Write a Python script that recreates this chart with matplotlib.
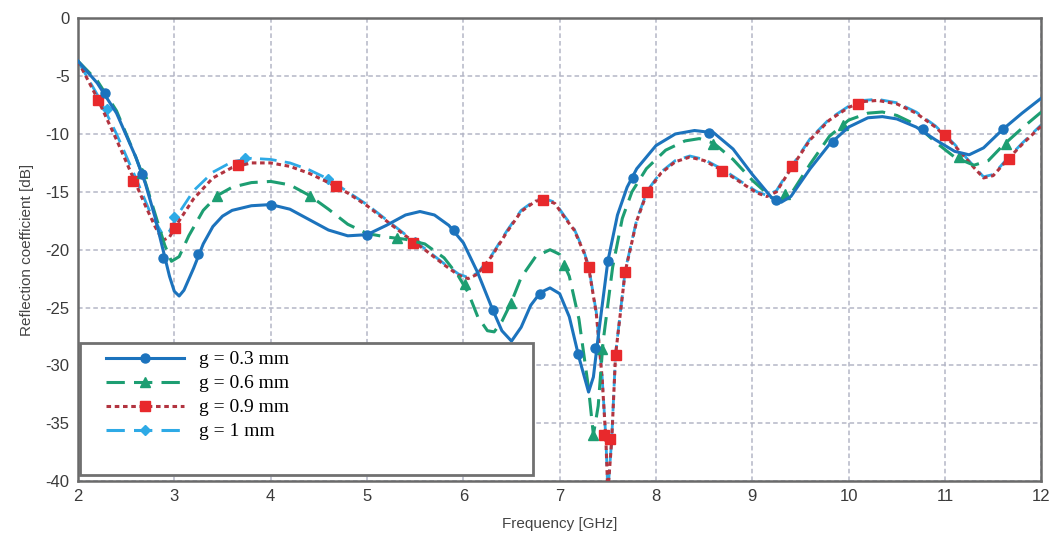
import numpy as np
import matplotlib
matplotlib.use('Agg')
import matplotlib.pyplot as plt
from matplotlib.lines import Line2D
from matplotlib.patches import Rectangle

plt.rcParams['axes.unicode_minus'] = False

# Values (Frequency in GHz, reflection coefficient in dB)

# g = 0.3 mm
f_03 = [2.0, 2.2, 2.4, 2.6, 2.7, 2.8, 2.9, 2.95, 3.0, 3.05, 3.1, 3.2, 3.3, 3.4, 3.5, 3.6, 3.8, 4.0,
        4.2, 4.4, 4.6, 4.8, 5.0, 5.2, 5.4, 5.55, 5.7, 5.85, 6.0, 6.15, 6.3, 6.4, 6.5, 6.6, 6.7, 6.8,
        6.9, 7.0, 7.1, 7.2, 7.3, 7.35, 7.4, 7.5, 7.6, 7.7, 7.8, 8.0, 8.2, 8.4, 8.6, 8.8, 9.0, 9.2,
        9.3, 9.4, 9.6, 9.8, 10.0, 10.2, 10.35, 10.5, 10.7, 10.9, 11.1, 11.25, 11.4, 11.6, 11.8, 12.0]
s_03 = [-3.7, -5.6, -8.2, -12.0, -14.3, -17.2, -20.6, -22.3, -23.6, -24.0, -23.5, -21.6, -19.5, -18.0,
        -17.1, -16.6, -16.2, -16.1, -16.5, -17.4, -18.3, -18.8, -18.7, -17.9, -17.0, -16.7, -17.0, -17.9,
        -19.4, -22.0, -25.1, -27.0, -27.9, -26.7, -24.8, -23.7, -23.3, -23.8, -25.8, -29.3, -32.3, -31.0,
        -27.5, -21.0, -17.0, -14.6, -13.0, -11.0, -10.0, -9.7, -9.9, -11.3, -13.5, -15.5, -15.9, -15.4,
        -13.0, -10.9, -9.4, -8.6, -8.5, -8.7, -9.4, -10.5, -11.5, -11.8, -11.2, -9.6, -8.2, -6.9]
mf_03 = [2.28, 2.66, 2.88, 3.25, 4.0, 5.0, 5.9, 6.31, 6.8, 7.19, 7.37, 7.5, 7.76, 8.55, 9.25, 9.84, 10.77, 11.6]
ms_03 = [-6.5, -13.5, -20.7, -20.4, -16.1, -18.7, -18.3, -25.2, -23.8, -29.0, -28.5, -21.0, -13.8, -9.9,
         -15.7, -10.7, -9.6, -9.6]

# g = 0.6 mm
f_06 = [2.0, 2.2, 2.4, 2.6, 2.7, 2.8, 2.9, 2.97, 3.05, 3.15, 3.3, 3.45, 3.6, 3.8, 4.0, 4.2, 4.4, 4.6,
        4.8, 5.0, 5.2, 5.4, 5.6, 5.8, 5.95, 6.05, 6.15, 6.25, 6.32, 6.4, 6.5, 6.6, 6.75, 6.9, 7.0, 7.1,
        7.2, 7.3, 7.35, 7.4, 7.45, 7.55, 7.65, 7.75, 7.9, 8.1, 8.3, 8.45, 8.6, 8.8, 9.0, 9.2, 9.3, 9.4,
        9.6, 9.8, 10.0, 10.2, 10.35, 10.5, 10.7, 10.9, 11.1, 11.3, 11.45, 11.6, 11.8, 12.0]
s_06 = [-3.7, -5.4, -8.0, -12.0, -14.2, -16.9, -19.6, -21.0, -20.6, -18.8, -16.6, -15.3, -14.6, -14.2,
        -14.1, -14.4, -15.3, -16.5, -17.8, -18.6, -18.9, -19.1, -19.5, -20.7, -22.3, -23.7, -25.8, -27.0,
        -27.1, -26.2, -24.5, -22.4, -20.6, -20.0, -20.4, -22.3, -26.0, -32.0, -36.0, -33.5, -28.0, -21.5,
        -17.3, -15.0, -13.0, -11.4, -10.6, -10.4, -10.8, -12.2, -14.0, -15.5, -15.8, -15.2, -12.6, -10.2,
        -8.8, -8.2, -8.1, -8.4, -9.2, -10.7, -12.0, -12.7, -12.3, -11.0, -9.5, -8.1]
mf_06 = [2.66, 3.44, 4.41, 5.31, 6.02, 6.49, 7.04, 7.35, 7.44, 8.59, 9.34, 9.94, 11.14, 11.63]
ms_06 = [-13.4, -15.4, -15.4, -19.0, -23.0, -24.6, -21.3, -36.0, -28.6, -10.9, -15.2, -9.2, -12.0, -10.9]

# g = 0.9 mm
f_09 = [2.0, 2.2, 2.4, 2.6, 2.7, 2.8, 2.88, 2.95, 3.05, 3.2, 3.4, 3.6, 3.8, 4.0, 4.2, 4.4, 4.6, 4.8,
        5.0, 5.2, 5.4, 5.6, 5.8, 5.95, 6.05, 6.15, 6.3, 6.45, 6.6, 6.75, 6.85, 6.95, 7.05, 7.15, 7.25,
        7.3, 7.38, 7.44, 7.48, 7.5, 7.54, 7.58, 7.68, 7.8, 7.91, 8.05, 8.2, 8.35, 8.5, 8.7, 8.9, 9.05,
        9.15, 9.25, 9.4, 9.6, 9.8, 10.0, 10.15, 10.3, 10.5, 10.7, 10.9, 11.1, 11.3, 11.4, 11.5, 11.65,
        11.8, 12.0]
s_09 = [-3.7, -6.9, -10.5, -14.3, -16.2, -18.0, -19.2, -18.9, -17.5, -15.6, -13.8, -12.9, -12.5, -12.5,
        -12.8, -13.4, -14.2, -15.1, -16.2, -17.5, -18.8, -20.0, -21.3, -22.2, -22.5, -22.1, -20.5, -18.5,
        -16.7, -15.8, -15.7, -16.0, -17.2, -18.3, -20.2, -21.5, -25.5, -31.0, -36.5, -41.0, -36.5, -29.1,
        -21.9, -17.5, -15.0, -13.4, -12.4, -12.0, -12.3, -13.2, -14.3, -15.1, -15.4, -15.0, -13.0, -10.5,
        -8.8, -7.7, -7.2, -7.1, -7.4, -8.2, -9.4, -11.0, -12.9, -13.8, -13.6, -12.2, -10.9, -9.3]
mf_09 = [2.21, 2.57, 3.01, 3.66, 4.68, 5.48, 6.25, 6.83, 7.30, 7.46, 7.52, 7.58, 7.68, 7.91, 8.69, 9.41,
         10.1, 11.0, 11.66]
ms_09 = [-7.1, -14.1, -18.1, -12.7, -14.5, -19.4, -21.5, -15.7, -21.5, -36.0, -36.4, -29.1, -21.9, -15.0,
         -13.2, -12.8, -7.4, -10.1, -12.2]

# g = 1 mm
f_10 = [2.0, 2.2, 2.4, 2.6, 2.75, 2.88, 2.95, 3.05, 3.2, 3.4, 3.6, 3.8, 4.0, 4.2, 4.4, 4.6, 4.8, 5.0,
        5.2, 5.4, 5.6, 5.8, 5.95, 6.05, 6.15, 6.3, 6.45, 6.6, 6.75, 6.85, 6.95, 7.05, 7.15, 7.25, 7.3,
        7.38, 7.44, 7.48, 7.5, 7.54, 7.58, 7.68, 7.8, 7.91, 8.05, 8.2, 8.35, 8.5, 8.7, 8.9, 9.05, 9.15,
        9.25, 9.4, 9.6, 9.8, 10.0, 10.15, 10.3, 10.5, 10.7, 10.9, 11.1, 11.3, 11.4, 11.5, 11.65, 11.8, 12.0]
s_10 = [-3.7, -6.6, -10.0, -13.8, -16.8, -18.7, -18.4, -16.8, -14.9, -13.3, -12.4, -12.1, -12.2, -12.5,
        -13.1, -13.9, -15.0, -16.1, -17.4, -18.7, -19.9, -21.2, -22.1, -22.4, -22.0, -20.4, -18.4, -16.6,
        -15.7, -15.6, -15.9, -17.1, -18.2, -20.1, -21.4, -25.4, -30.9, -36.4, -41.0, -36.4, -29.0, -21.8,
        -17.4, -14.9, -13.3, -12.3, -11.9, -12.2, -13.1, -14.2, -15.0, -15.3, -14.9, -12.9, -10.4, -8.7,
        -7.6, -7.1, -7.0, -7.3, -8.1, -9.3, -10.9, -12.8, -13.7, -13.5, -12.1, -10.8, -9.2]
mf_10 = [2.3, 3.0, 3.73, 4.6, 5.5]
ms_10 = [-7.8, -17.2, -12.1, -13.9, -19.3]

labels = ['g = 0.3 mm', 'g = 0.6 mm', 'g = 0.9 mm', 'g = 1 mm']

c_blue = '#1c73bd'
c_green = '#1d9e72'
c_red_line = '#b23440'
c_red_mk = '#e8292c'
c_lblue = '#2eaae6'

fig = plt.figure(figsize=(10.54, 5.37), dpi=100)
ax = fig.add_axes([0.074, 0.104, 0.914, 0.862])

# g = 1 mm (mostly hidden under the others)
ax.plot(f_10, s_10, color=c_lblue, lw=2, ls=(0, (6, 3)), zorder=2)
ax.plot(mf_10, ms_10, ls='none', marker='D', ms=5, color=c_lblue, zorder=2)
# g = 0.9 mm
ax.plot(f_09, s_09, color=c_red_line, lw=2.2, ls=(0, (1.5, 1.2)), zorder=3)
ax.plot(mf_09, ms_09, ls='none', marker='s', ms=7.5, color=c_red_mk, zorder=3)
# g = 0.6 mm
ax.plot(f_06, s_06, color=c_green, lw=2.2, ls=(0, (6, 3)), zorder=4)
ax.plot(mf_06, ms_06, ls='none', marker='^', ms=6.5, color=c_green, zorder=4)
# g = 0.3 mm
ax.plot(f_03, s_03, color=c_blue, lw=2.2, ls='-', zorder=5)
ax.plot(mf_03, ms_03, ls='none', marker='o', ms=6.5, color=c_blue, zorder=5)

ax.set_xlim(2, 12)
ax.set_ylim(-40, 0)
ax.set_xticks(range(2, 13))
ax.set_yticks(range(-40, 1, 5))
ax.grid(True, color='#b4b6c6', ls=(0, (3, 2)), lw=1.1)
ax.set_axisbelow(True)
ax.tick_params(length=0, labelsize=12, labelcolor='#3a3a3a', pad=6)
for lab in ax.get_xticklabels() + ax.get_yticklabels():
    lab.set_family('Liberation Sans')
for sp in ax.spines.values():
    sp.set_color('#6a6a6a')
    sp.set_linewidth(1.8)

ax.set_xlabel('Frequency [GHz]', fontsize=11, color='#444444', labelpad=9, family='Liberation Sans')
ax.set_ylabel('Reflection coefficient [dB]', fontsize=11, color='#444444', labelpad=8,
              family='Liberation Sans')

# legend box, larger than its content as in the reference
box = Rectangle((0.002, 0.013), 0.47, 0.285, transform=ax.transAxes, facecolor='white',
                edgecolor='#707070', lw=2, zorder=10)
ax.add_patch(box)
handles = [
    Line2D([], [], color=c_blue, lw=2.2, ls='-', marker='o', ms=6.5),
    Line2D([], [], color=c_green, lw=2.2, ls=(0, (6, 3)), marker='^', ms=6.5),
    Line2D([], [], color=c_red_line, lw=2.2, ls=(0, (1.5, 1.2)), marker='s', ms=7.5,
           markerfacecolor=c_red_mk, markeredgecolor=c_red_mk),
    Line2D([], [], color=c_lblue, lw=2.2, ls=(0, (6, 3)), marker='D', ms=5),
]
leg = ax.legend(handles, labels, loc='upper left', bbox_to_anchor=(0.017, 0.307), frameon=False,
                prop={'family': 'Liberation Serif', 'size': 14}, handlelength=4.0,
                labelspacing=0.33, handletextpad=0.8, numpoints=1, borderpad=0.1)
leg.set_zorder(11)

fig.savefig('out.png', dpi=100)
